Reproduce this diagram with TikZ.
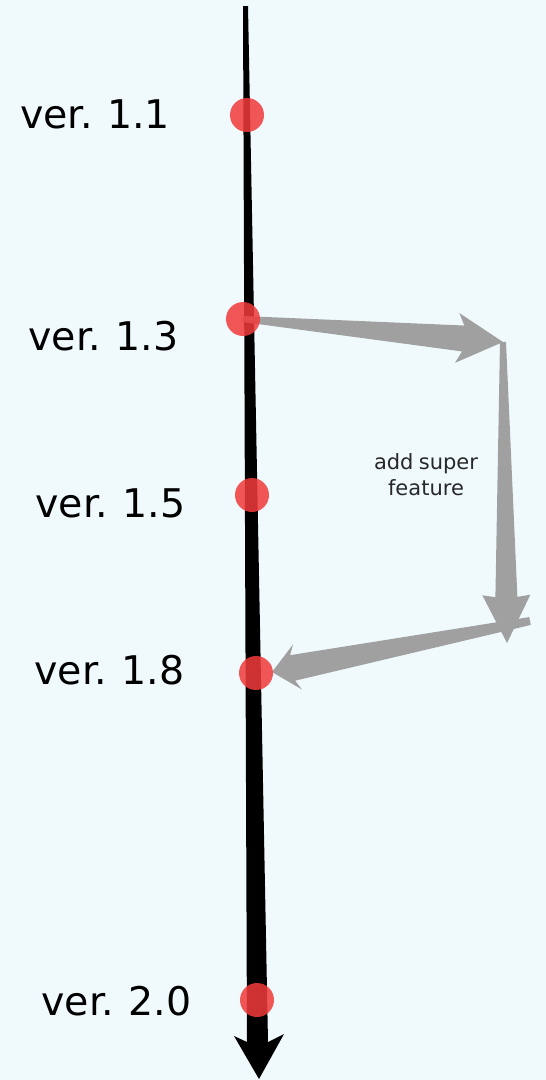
\documentclass[tikz,border=0pt]{standalone}
\usepackage{fontspec}
\setmainfont[WordSpace=0.8]{DejaVu Sans}
\usetikzlibrary{calc}
\definecolor{bgcol}{RGB}{240,250,253}
\definecolor{dotred}{RGB}{242,58,58}
\definecolor{featgray}{RGB}{160,160,160}
\definecolor{notegray}{RGB}{40,40,40}

% start, tip, tail half width, neck half width, head half width, neck dist, barb dist
\newcommand{\taperarrow}[7]{%
    \fill[featgray] ($(#1)!#3!90:(#2)$) -- ($(#2)!#6!(#1)!#4!-90:(#1)$)
        -- ($(#2)!#7!(#1)!#5!-90:(#1)$) -- (#2)
        -- ($(#2)!#7!(#1)!#5!90:(#1)$) -- ($(#2)!#6!(#1)!#4!90:(#1)$)
        -- ($(#1)!#3!-90:(#2)$) -- cycle;}

\begin{document}
\begin{tikzpicture}[x=1pt,y=-1pt,
    verdot/.style={circle, fill=dotred, fill opacity=.85, minimum size=34pt,
        inner sep=0pt},
    verlabel/.style={anchor=base, inner sep=0pt,
        font=\fontsize{39.5}{46}\selectfont},
    note/.style={align=center, text=notegray, inner sep=0pt,
        font=\fontsize{21}{26}\selectfont}]

    \fill[bgcol] (0,0) rectangle (546,1080);
    \useasboundingbox (0,0) rectangle (546,1080);

    % time line
    \coordinate (top) at (245.5,6);
    \coordinate (tip) at (259,1079);
    \fill (243,6) -- (248,6) -- (268,1042) -- (284,1034) -- (tip)
        -- (234,1036) -- (247,1042) -- cycle;

    \coordinate (v13c) at (243,319);
    \coordinate (c1) at (503,342);
    \coordinate (c2) at (507,643);
    \coordinate (c3) at (530,621);
    \coordinate (v18c) at (272,672);

    \taperarrow{c1}{c2}{3pt}{11pt}{24pt}{46pt}{48pt}
    \taperarrow{v13c}{c1}{3pt}{13pt}{25pt}{40pt}{46pt}
    \taperarrow{c3}{v18c}{4pt}{13pt}{23pt}{21pt}{26pt}

    \node[note] (feat) at (426,475) {add super\\feature};

    \node[verdot] (v11) at (247,115) {};
    \node[verdot] (v13) at (243,319) {};
    \node[verdot] (v15) at (252,495) {};
    \node[verdot] (v18) at (256,673) {};
    \node[verdot] (v20) at (257,1000) {};

    \node[verlabel] (l11) at (95,128) {ver. 1.1};
    \node[verlabel] (l13) at (103.5,350) {ver. 1.3};
    \node[verlabel] (l15) at (110.5,517) {ver. 1.5};
    \node[verlabel] (l18) at (109.5,684) {ver. 1.8};
    \node[verlabel] (l20) at (116.5,1015) {ver. 2.0};

\end{tikzpicture}
\end{document}
